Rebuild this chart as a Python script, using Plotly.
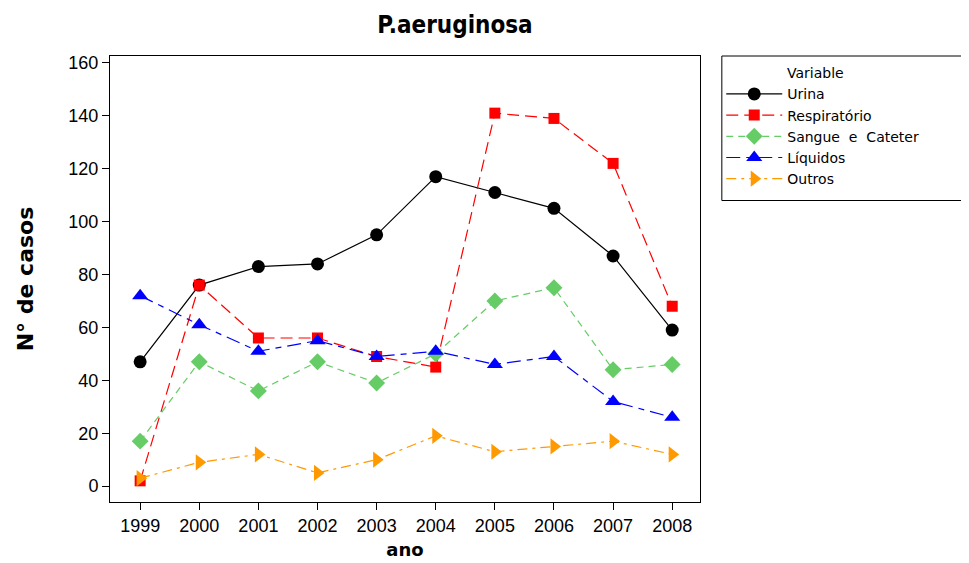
import plotly.graph_objects as go

years = [1999, 2000, 2001, 2002, 2003, 2004, 2005, 2006, 2007, 2008]
urina = [47, 76, 83, 84, 95, 117, 111, 105, 87, 59]
respiratorio = [2, 76, 56, 56, 49, 45, 141, 139, 122, 68]
sangue = [17, 47, 36, 47, 39, 50, 70, 75, 44, 46]
liquidos = [72, 61, 51, 55, 49, 51, 46, 49, 32, 26]
outros = [3, 9, 12, 5, 10, 19, 13, 15, 17, 12]
y_ticks = [0, 20, 40, 60, 80, 100, 120, 140, 160]

series = [
    ("Urina", urina, "black", "solid", "circle", 13),
    ("Respiratório", respiratorio, "#FF0000", "12px,6px", "square", 11),
    ("Sangue  e  Cateter", sangue, "#66CC66", "7px,5px", "diamond", 13),
    ("Líquidos", liquidos, "#0000FF", "14px,6px,6px,6px", "triangle-up", 14),
    ("Outros", outros, "#FF9900", "10px,5px,3px,5px", "triangle-right", 14),
]

fig = go.Figure()
for name, vals, color, dash, sym, size in series:
    fig.add_trace(go.Scatter(
        x=years, y=vals, name=name, mode="lines+markers",
        line=dict(color=color, width=1.2, dash=dash),
        marker=dict(color=color, symbol=sym, size=size),
    ))

font = "Liberation Sans, Arial, sans-serif"
fig.update_layout(
    width=969, height=563,
    margin=dict(l=102, r=277, t=48, b=69, autoexpand=False),
    paper_bgcolor="white", plot_bgcolor="white",
    font=dict(family=font, color="black"),
    title=dict(text="<b>P.aeruginosa</b>", x=447 / 969, xanchor="center",
               y=1 - 17 / 563, yanchor="middle", automargin=False,
               font=dict(size=24, family="DejaVu Sans Condensed, DejaVu Sans")),
    showlegend=True,
    legend=dict(x=1.036, y=0.95, xanchor="left", yanchor="top",
                font=dict(size=14, family="DejaVu Sans"),
                bgcolor="rgba(0,0,0,0)", borderwidth=0, itemwidth=56,
                tracegroupgap=0),
    shapes=[dict(type="rect", xref="paper", yref="paper", x0=1.037, x1=1.5,
                 y0=0.676, y1=1.0, line=dict(color="black", width=1))],
    annotations=[dict(text="Variable", xref="paper", yref="paper",
                      x=(785 - 110) / 590, y=1 - (72 - 55) / 447, xanchor="left", yanchor="middle",
                      showarrow=False, font=dict(size=14, family="DejaVu Sans"))],
)
fig.update_xaxes(
    range=[1998.49, 2008.47], tickvals=years, ticktext=[str(y) for y in years],
    ticks="outside", ticklen=7, tickcolor="black", showline=True, linecolor="black",
    linewidth=1, mirror=True, showgrid=False, zeroline=False, automargin=False,
    tickfont=dict(size=18, family=font),
    title=dict(text="<b>ano</b>", font=dict(size=18, family="DejaVu Sans"), standoff=8),
)
fig.update_yaxes(
    range=[-6, 162.6], tickvals=y_ticks,
    ticks="outside", ticklen=7, tickcolor="black", showline=True, linecolor="black",
    linewidth=1, mirror=True, showgrid=False, zeroline=False, automargin=False,
    tickfont=dict(size=18, family=font),
    title=dict(text="<b>N° de casos</b>", font=dict(size=22, family="DejaVu Sans"), standoff=28),
)
fig.write_html("out.html")
